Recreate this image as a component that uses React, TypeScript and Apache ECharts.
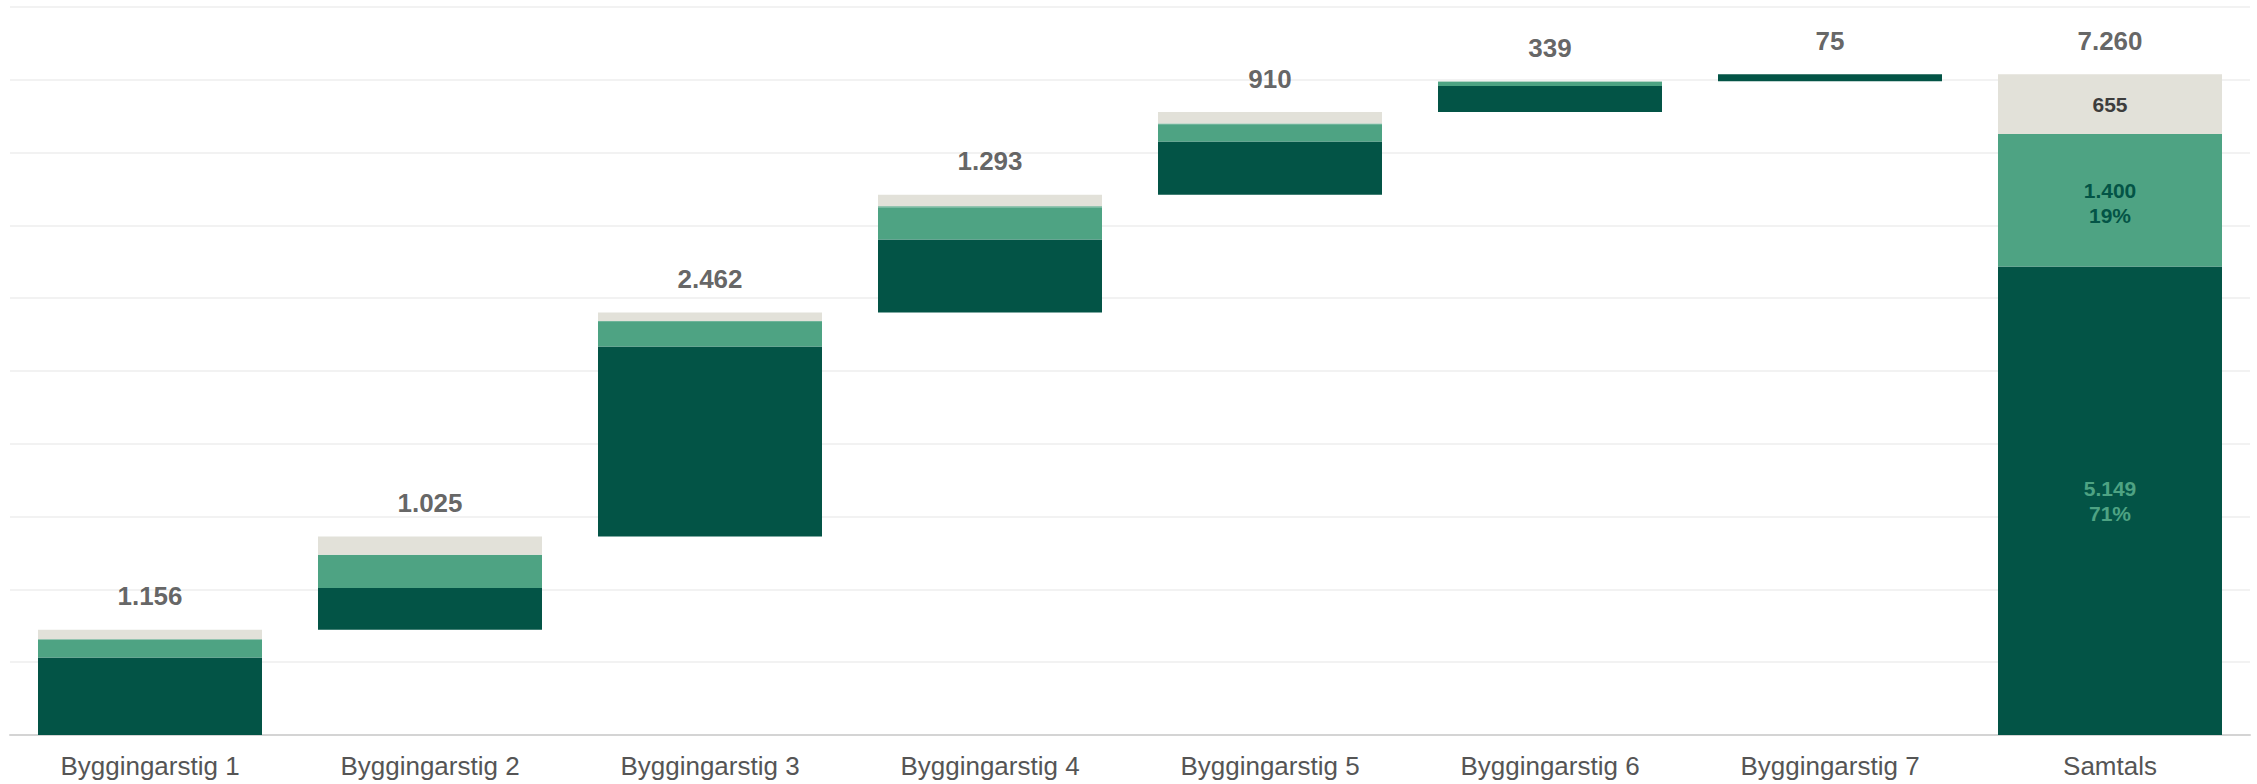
import React, { useEffect, useRef } from "react";
import * as echarts from "echarts";

const categories = [
  "Byggingarstig 1",
  "Byggingarstig 2",
  "Byggingarstig 3",
  "Byggingarstig 4",
  "Byggingarstig 5",
  "Byggingarstig 6",
  "Byggingarstig 7",
  "Samtals",
];
const stepTotals = [1156, 1025, 2462, 1293, 910, 339, 75];
const darkSteps = [852, 460, 2088, 802, 586, 286, 75];
const mediumSteps = [192, 350, 272, 352, 190, 44, 0];
const beigeSteps = [104, 201, 93, 125, 127, 5, 0];

const DARK = "#035446";
const MEDIUM = "#4ea383";
const BEIGE = "#e2e1d9";
const TEXT = "#3d3d3d";
const FONT = "'Liberation Sans', Arial, Helvetica, sans-serif";

const fmt = (n: number) =>
  String(Math.round(n)).replace(/\B(?=(\d{3})+(?!\d))/g, ".");

const sum = (a: number[]) => a.reduce((s, v) => s + v, 0);

export default function App() {
  const ref = useRef<HTMLDivElement>(null);

  useEffect(() => {
    if (!ref.current) return;
    const chart = echarts.init(ref.current, undefined, { renderer: "svg" });

    const otherSteps = stepTotals.map(
      (t, i) => t - darkSteps[i] - mediumSteps[i] - beigeSteps[i]
    );
    const bases: number[] = [];
    let acc = 0;
    stepTotals.forEach((t) => {
      bases.push(acc);
      acc += t;
    });
    const grand = acc;
    const darkTotal = sum(darkSteps);
    const mediumTotal = sum(mediumSteps);
    const otherTotal = sum(otherSteps);
    const beigeTotal = sum(beigeSteps);

    const baseData = [...bases, 0];
    const tops = [...stepTotals.map((t, i) => bases[i] + t), grand];
    const totalLabels = [...stepTotals, grand];

    const innerLabel = (color: string) => ({
      show: true,
      position: "inside" as const,
      color,
      fontFamily: FONT,
      fontWeight: "bold" as const,
      fontSize: 21,
      lineHeight: 25,
    });

    const last = categories.length - 1;

    chart.setOption({
      animation: false,
      grid: { left: 10, right: 7, top: 7, bottom: 49, containLabel: false },
      xAxis: {
        type: "category",
        data: categories,
        axisLine: { show: true, lineStyle: { color: "#d4d4d4", width: 2 } },
        axisTick: { show: false },
        axisLabel: {
          color: "#555555",
          fontFamily: FONT,
          fontSize: 26,
          margin: 18,
        },
      },
      yAxis: {
        type: "value",
        min: 0,
        max: 8000,
        interval: 800,
        axisLabel: { show: false },
        axisLine: { show: false },
        axisTick: { show: false },
        splitLine: { show: true, lineStyle: { color: "#eeeeee", width: 1.5 } },
      },
      series: [
        {
          name: "base",
          type: "bar",
          stack: "w",
          barWidth: "80%",
          itemStyle: { color: "transparent" },
          emphasis: { disabled: true },
          data: baseData,
          silent: true,
        },
        {
          name: "dark",
          type: "bar",
          stack: "w",
          barWidth: "80%",
          itemStyle: { color: DARK },
          data: [
            ...darkSteps,
            {
              value: darkTotal,
              label: {
                ...innerLabel(MEDIUM),
                formatter: () =>
                  `${fmt(darkTotal)}\n${Math.round((darkTotal / grand) * 100)}%`,
              },
            },
          ],
        },
        {
          name: "medium",
          type: "bar",
          stack: "w",
          barWidth: "80%",
          itemStyle: { color: MEDIUM },
          data: [
            ...mediumSteps,
            {
              value: mediumTotal,
              label: {
                ...innerLabel(DARK),
                formatter: () =>
                  `${fmt(mediumTotal)}\n${Math.round(
                    (mediumTotal / grand) * 100
                  )}%`,
              },
            },
          ],
        },
        {
          name: "other",
          type: "bar",
          stack: "w",
          barWidth: "80%",
          itemStyle: { color: MEDIUM },
          data: [...otherSteps, otherTotal],
        },
        {
          name: "beige",
          type: "bar",
          stack: "w",
          barWidth: "80%",
          itemStyle: { color: BEIGE },
          data: [
            ...beigeSteps,
            {
              value: beigeTotal,
              label: {
                ...innerLabel(TEXT),
                formatter: () => fmt(beigeTotal),
              },
            },
          ],
        },
        {
          name: "totals",
          type: "scatter",
          symbolSize: 1,
          itemStyle: { color: "rgba(0,0,0,0)" },
          data: tops.map((v, i) => ({ value: [i, v] })),
          label: {
            show: true,
            position: "top",
            distance: 20,
            color: TEXT,
            fontFamily: FONT,
            fontWeight: "bold",
            fontSize: 26,
            formatter: (p: any) => fmt(totalLabels[p.dataIndex]),
          },
          silent: true,
          z: 5,
        },
      ],
    });
    void last;

    return () => chart.dispose();
  }, []);

  return (
    <div
      ref={ref}
      style={{
        position: "absolute",
        left: 0,
        top: 0,
        width: 2257,
        height: 784,
        background: "#ffffff",
      }}
    />
  );
}
